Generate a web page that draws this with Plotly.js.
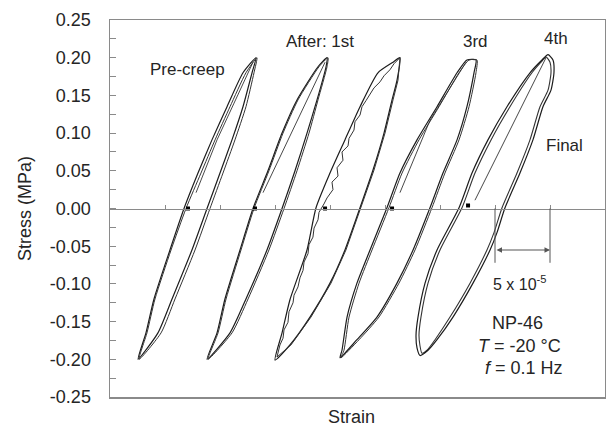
<!DOCTYPE html>
<html>
<head>
<meta charset="utf-8">
<script src="https://cdn.plot.ly/plotly-3.0.1.min.js"></script>
<style>html,body{margin:0;padding:0;background:#fff;}#chart{width:606px;height:428px;}</style>
</head>
<body>
<div id="chart"></div>
<script>
// Strain in units of 1e-5, stress in MPa
const yTickVals = [-0.25,-0.225,-0.2,-0.175,-0.15,-0.125,-0.1,-0.075,-0.05,-0.025,0,0.025,0.05,0.075,0.1,0.125,0.15,0.175,0.2,0.225,0.25];
const yTickText = ['-0.25','','-0.20','','-0.15','','-0.10','','-0.05','','0.00','','0.05','','0.10','','0.15','','0.20','','0.25'];
const xTickVals = [5,10,15,20,25,30,35,40];

// Pre-creep loop
const preStress = [-0.200,-0.165,-0.120,-0.055,0.000,0.047,0.091,0.135,0.180,0.200,0.180,0.135,0.091,0.047,0.000,-0.055,-0.120,-0.165,-0.200];
const preStrainC1 = [2.55,3.27,4.00,5.45,6.73,8.00,9.27,10.64,12.09,13.27,12.91,12.09,11.09,10.00,8.82,7.45,5.64,4.36,2.55];
const preStrainC2 = [2.64,3.36,4.09,5.55,6.91,8.27,9.55,10.91,12.36,13.36,13.09,12.36,11.36,10.27,9.09,7.73,5.91,4.64,2.64];

// After 1st creep
const firstStress = [-0.200,-0.165,-0.120,-0.055,0.000,0.050,0.100,0.144,0.188,0.200,0.188,0.144,0.100,0.050,0.000,-0.055,-0.120,-0.165,-0.200];
const firstStrainC1 = [8.82,9.73,10.45,11.82,13.00,14.36,15.64,17.00,18.91,19.73,19.64,18.82,17.91,16.82,15.64,14.27,12.36,10.91,8.82];
const firstStrainC2 = [8.91,9.82,10.55,11.91,13.09,14.45,15.73,17.09,19.00,19.82,19.73,18.91,18.09,17.00,15.82,14.45,12.55,11.09,8.91];

// After 2nd creep (wiggly)
const secondStressC1 = [-0.201,-0.165,-0.121,-0.055,0.001,0.047,0.091,0.135,0.180,0.194,0.200,0.170,0.144,0.100,0.051,0.001,-0.055,-0.099,-0.144,-0.181,-0.201];
const secondStrainC1 = [15.00,15.64,16.36,17.91,18.73,20.00,21.36,22.73,24.36,25.73,26.36,26.09,25.64,24.91,23.91,22.73,21.36,20.00,18.18,16.36,15.00];
const secondStressC2 = [-0.197,-0.181,-0.172,-0.161,-0.151,-0.137,-0.125,-0.115,-0.104,-0.092,-0.082,-0.071,-0.060,-0.048,-0.038,-0.026,-0.015,-0.005,0.006,0.014,0.025,0.035,0.043,0.054,0.064,0.075,0.083,0.093,0.104,0.115,0.124,0.135,0.143,0.152,0.160,0.168,0.176,0.184,0.192,0.200,0.170,0.144,0.100,0.051,0.001,-0.055,-0.099,-0.144,-0.181,-0.197];
const secondStrainC2 = [15.18,15.45,15.73,15.82,16.18,16.27,16.64,16.73,17.09,17.27,17.55,17.64,18.00,18.09,18.45,18.55,18.91,19.00,19.45,19.73,20.27,20.18,20.73,20.64,21.18,21.09,21.64,21.73,22.18,22.27,22.73,22.91,23.27,23.64,24.00,24.55,24.91,25.45,25.82,26.36,26.18,25.73,25.00,24.00,22.82,21.45,20.09,18.27,16.45,15.18];

// After 3rd creep
const thirdStress = [-0.198,-0.188,-0.144,-0.099,-0.055,0.001,0.047,0.091,0.135,0.180,0.197,0.197,0.180,0.135,0.091,0.047,0.001,-0.055,-0.099,-0.144,-0.174,-0.198];
const thirdStrainC1 = [20.91,21.09,21.55,22.45,23.64,25.18,26.36,27.91,29.73,31.55,32.45,33.27,33.09,32.45,31.55,30.27,29.09,27.55,26.09,24.27,22.45,20.91];
const thirdStrainC2 = [21.00,21.27,21.73,22.64,23.82,25.36,26.55,28.09,29.91,31.73,32.64,33.36,33.27,32.64,31.73,30.45,29.27,27.73,26.27,24.45,22.64,21.00];

// After 4th creep and final
const fourthStress = [-0.192,-0.182,-0.168,-0.144,-0.099,-0.055,0.001,0.047,0.091,0.135,0.180,0.194,0.201,0.194,0.180,0.157,0.135,0.091,0.047,0.001,-0.032,-0.055,-0.099,-0.144,-0.174,-0.188,-0.192];
const fourthStrain = [28.36,28.18,28.09,28.27,28.91,30.00,32.00,33.18,34.64,36.36,38.36,39.18,39.64,40.00,40.09,39.82,39.09,38.18,37.00,35.64,34.91,34.27,32.73,30.91,29.55,28.82,28.36];
const finalStress = [-0.195,-0.185,-0.168,-0.144,-0.099,-0.055,0.001,0.047,0.091,0.135,0.180,0.197,0.204,0.197,0.180,0.157,0.135,0.091,0.047,0.001,-0.032,-0.055,-0.099,-0.144,-0.174,-0.188,-0.195];
const finalStrain = [28.18,27.91,27.82,28.00,28.64,29.73,31.73,32.91,34.36,36.09,38.18,39.27,39.82,40.27,40.36,40.09,39.36,38.45,37.27,35.91,35.18,34.55,33.00,31.18,29.73,28.91,28.18];

// Initial loading lines (first quarter cycle)
const start1Strain = [7.82,9.73,13.00];   const start1Stress = [0.021,0.091,0.194];
const start2Strain = [13.91,16.64,19.55]; const start2Stress = [0.021,0.105,0.194];
const start4Strain = [26.36,29.09,32.36]; const start4Stress = [0.021,0.117,0.194];
const start5Strain = [33.18,36.45,39.64]; const start5Stress = [0.011,0.107,0.200];

// Start markers
const markerStrain = [7.09,13.18,19.55,25.64,32.55];
const markerStress = [0.0,0.0,0.0,0.0,0.004];

// Scale bar (5 x 10^-5)
const scaleStart = 35, scaleEnd = 40, scaleBarStress = -0.055, scaleTickBottom = -0.072;

const ink = '#1c1c1c';
function loop(x, y, w, c, shape) {
  return {x: x, y: y, type: 'scatter', mode: 'lines', line: {color: c, width: w, shape: shape || 'spline', smoothing: 0.6}, hoverinfo: 'skip', showlegend: false};
}
const traces = [
  loop(preStrainC1, preStress, 1.2, ink),
  loop(preStrainC2, preStress, 1.0, '#333'),
  loop(firstStrainC1, firstStress, 1.2, ink),
  loop(firstStrainC2, firstStress, 1.0, '#333'),
  loop(secondStrainC1, secondStressC1, 1.2, ink),
  loop(secondStrainC2, secondStressC2, 1.0, '#333', 'linear'),
  loop(thirdStrainC1, thirdStress, 1.2, ink),
  loop(thirdStrainC2, thirdStress, 1.0, '#333'),
  loop(fourthStrain, fourthStress, 1.1, '#333'),
  loop(finalStrain, finalStress, 1.2, ink),
  loop(start1Strain, start1Stress, 0.9, '#333', 'linear'),
  loop(start2Strain, start2Stress, 0.9, '#333', 'linear'),
  loop(start4Strain, start4Stress, 0.9, '#333', 'linear'),
  loop(start5Strain, start5Stress, 0.9, '#333', 'linear'),
  {x: markerStrain, y: markerStress, xaxis: 'x2', type: 'scatter', mode: 'markers',
   marker: {symbol: 'square', size: 4, color: '#000'}, hoverinfo: 'skip', showlegend: false}
];

const font = 'Arial, "Liberation Sans", sans-serif';
const txt = '#252525';
const frame = '#8a8a8a';
function note(text, x, y, size, extra) {
  return Object.assign({text: text, x: x, y: y, xref: 'x', yref: 'y', showarrow: false,
    font: {family: font, size: size, color: txt}, xanchor: 'center', yanchor: 'middle'}, extra || {});
}

const layout = {
  width: 606, height: 428,
  margin: {l: 110, r: 1, t: 20, b: 31, pad: 0},
  paper_bgcolor: '#fff', plot_bgcolor: '#fff',
  font: {family: font, size: 18, color: txt},
  showlegend: false,
  xaxis: {range: [0, 45], showline: true, mirror: true, linecolor: frame, linewidth: 1.5,
    ticks: '', showticklabels: false, showgrid: false, zeroline: false},
  xaxis2: {range: [0, 45], overlaying: 'x', anchor: 'free', position: 0.5, side: 'bottom',
    tickmode: 'array', tickvals: xTickVals, ticks: 'inside', ticklen: 4, tickcolor: frame, tickwidth: 1,
    showticklabels: false, showline: true, linecolor: frame, linewidth: 1.3, showgrid: false, zeroline: false},
  yaxis: {range: [-0.25, 0.25], tickmode: 'array', tickvals: yTickVals, ticktext: yTickText,
    ticks: 'inside', ticklen: 6, tickcolor: frame, tickwidth: 1, ticklabelstandoff: 14,
    tickfont: {family: font, size: 18, color: txt},
    showline: true, mirror: true, linecolor: frame, linewidth: 1.5, showgrid: false, zeroline: false},
  shapes: [
    {type: 'line', xref: 'x', yref: 'y', x0: scaleStart, x1: scaleStart, y0: 0, y1: scaleTickBottom, line: {color: '#555', width: 1}},
    {type: 'line', xref: 'x', yref: 'y', x0: scaleEnd, x1: scaleEnd, y0: 0, y1: scaleTickBottom, line: {color: '#555', width: 1}}
  ],
  annotations: [
    {text: '', x: scaleEnd, y: scaleBarStress, ax: scaleStart, ay: scaleBarStress, xref: 'x', yref: 'y', axref: 'x', ayref: 'y',
      showarrow: true, arrowside: 'end+start', arrowhead: 2, arrowsize: 1, arrowwidth: 1.1, arrowcolor: '#555', standoff: 0, startstandoff: 0},
    note('Pre-creep', 7.0, 0.184, 17),
    note('After: 1st', 19.09, 0.221, 17),
    note('3rd', 33.27, 0.221, 17),
    note('4th', 40.55, 0.225, 17),
    note('Final', 41.36, 0.084, 17),
    note('5 x 10<sup>-5</sup>', 37.27, -0.099, 16),
    note('NP-46', 37.09, -0.152, 18),
    note('<i>T</i> = -20 °C', 37.27, -0.182, 18),
    note('<i>f</i> = 0.1 Hz', 37.64, -0.211, 18),
    {text: 'Stress (MPa)', xref: 'paper', yref: 'paper', x: -0.1727, y: 0.5, textangle: -90, showarrow: false,
      font: {family: font, size: 18, color: txt}, xanchor: 'center', yanchor: 'middle'},
    {text: 'Strain', xref: 'paper', yref: 'paper', x: 0.487, y: -0.053, showarrow: false,
      font: {family: font, size: 18, color: txt}, xanchor: 'center', yanchor: 'middle'}
  ]
};

Plotly.newPlot('chart', traces, layout, {staticPlot: true, displayModeBar: false});
</script>
</body>
</html>
